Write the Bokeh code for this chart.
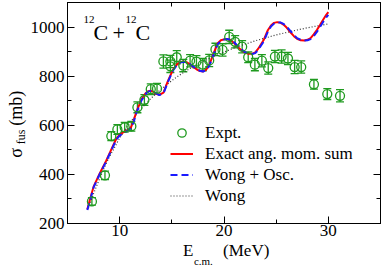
from bokeh.plotting import figure
from bokeh.models import (ColumnDataSource, Whisker, TeeHead, Label, Legend, LegendItem,
                          LinearAxis, SingleIntervalTicker, FixedTicker, Range1d)
from bokeh.embed import file_html
from bokeh.resources import INLINE

# ---------------- data ----------------
expt_E = [7.34, 8.59, 9.2, 9.78, 10.48, 11.12, 11.7, 12.37, 12.98, 13.58, 14.19, 14.86, 14.86,
          15.47, 16.1, 16.75, 17.36, 17.97, 18.58, 19.18, 19.86, 20.5, 21.07, 21.74, 22.32,
          22.96, 23.63, 24.24, 24.88, 25.52, 26.13, 26.77, 27.4, 28.62, 29.9, 31.12]
expt_sigma = [290, 396, 556, 583, 592, 596, 673, 703, 747, 749, 860, 860, 840,
              877, 843, 863, 859, 847, 864, 909, 907, 960, 940, 920, 877,
              847, 863, 833, 880, 880, 872, 837, 837, 767, 727, 720]
expt_err = [15, 17, 18, 20, 20, 20, 22, 22, 22, 22, 27, 25, 25,
            27, 25, 25, 25, 25, 25, 25, 25, 27, 25, 25, 22,
            25, 25, 25, 25, 27, 25, 27, 25, 20, 22, 25]

curve_E = [6.9, 7.2, 7.5, 8.1, 8.7, 9.4, 9.7, 10.0, 10.3, 10.6, 10.9, 11.1, 11.35, 11.6, 12.1,
           12.5, 12.75, 12.95, 13.2, 13.5, 13.8, 14.2, 14.6, 15.1, 15.5, 15.8, 16.1, 16.4, 16.7,
           17.0, 17.4, 17.7, 18.0, 18.3, 18.6, 19.0, 19.4, 19.7, 20.0, 20.3, 20.6, 21.0, 21.4,
           21.7, 22.0, 22.35, 22.7, 23.0, 23.3, 23.8, 24.2, 24.5, 24.8, 25.1, 25.4, 25.7, 26.0,
           26.3, 26.7, 27.0, 27.35, 27.7, 28.0, 28.3, 28.6, 28.9, 29.2, 29.5, 29.8, 30.0]
exact_sigma = [258, 305, 350, 405, 455, 520, 547, 562, 570, 577, 584, 593, 620, 655, 707,
               731, 739, 741, 737, 728, 724, 733, 778, 826, 848, 857, 860, 857, 849,
               840, 827, 821, 819, 827, 847, 893, 934, 946, 950, 951, 947, 934, 916,
               905, 896, 891, 891, 897, 913, 947, 987, 1006, 1017, 1020, 1018, 1010, 998,
               982, 963, 952, 946, 945, 948, 955, 970, 988, 1008, 1030, 1050, 1061]
osc_sigma = [255, 300, 347, 402, 452, 516, 543, 558, 566, 574, 582, 590, 615, 650, 702,
             728, 737, 740, 737, 730, 723, 730, 774, 822, 846, 855, 859, 857, 850,
             841, 829, 822, 819, 825, 843, 888, 930, 944, 949, 951, 948, 937, 919,
             908, 898, 892, 890, 894, 908, 941, 981, 1002, 1014, 1019, 1019, 1013, 1002,
             987, 968, 955, 948, 945, 946, 951, 963, 980, 1000, 1021, 1040, 1050]

wong_E = [7, 7.5, 8, 8.5, 9, 10, 11, 12, 13, 14, 15, 16, 17, 18, 19, 20, 21, 22, 23, 24,
          25, 26, 27, 28, 29, 30]
wong_sigma = [262, 322, 375, 425, 470, 548, 612, 665, 710, 748, 782, 812, 838, 860, 880,
              898, 915, 930, 944, 956, 968, 978, 988, 997, 1005, 1013]

x_tick_step = 10
y_tick_step = 200

# ---------------- layout (page pixels) ----------------
PW, PH = 382, 269
BL, BR, BT, BB = 67, 2, 2, 42
X0, X1, Y0, Y1 = 5, 35, 200, 1100
L, R, T, B = BL, PW - BR, BT, PH - BB


def dx(px):
    return X0 + (px - L) * (X1 - X0) / (R - L)


def dy(py):
    return Y0 + (B - py) * (Y1 - Y0) / (B - T)


SERIF = "Liberation Serif"
GREEN = "#1f9a1f"
NB = "\u00a0"

p = figure(width=PW, height=PH, output_backend="svg", toolbar_location=None,
           x_range=Range1d(X0, X1), y_range=Range1d(Y0, Y1),
           min_border_left=BL, min_border_right=BR, min_border_top=BT, min_border_bottom=BB,
           x_axis_type=None, y_axis_type=None)
p.xgrid.visible = False
p.ygrid.visible = False
p.outline_line_color = "black"
p.outline_line_width = 1
p.background_fill_color = "white"
p.border_fill_color = "white"


def make_axis(step, show_labels, standoff=3):
    ax = LinearAxis(ticker=SingleIntervalTicker(interval=step, num_minor_ticks=2))
    ax.major_tick_in = 7
    ax.major_tick_out = 0
    ax.minor_tick_in = 4
    ax.minor_tick_out = 0
    ax.axis_line_color = "black"
    ax.major_tick_line_color = "black"
    ax.minor_tick_line_color = "black"
    if show_labels:
        ax.major_label_text_font = SERIF
        ax.major_label_text_font_size = "17px"
        ax.major_label_text_color = "black"
        ax.major_label_standoff = standoff
    else:
        ax.major_label_text_font_size = "0px"
        ax.major_label_standoff = 0
        ax.major_label_text_alpha = 0
    return ax


def title_axis(text, size, standoff):
    ax = LinearAxis(ticker=FixedTicker(ticks=[]))
    ax.axis_line_color = None
    ax.major_tick_in = 0
    ax.major_tick_out = 0
    ax.minor_tick_in = 0
    ax.minor_tick_out = 0
    ax.major_label_text_font_size = "0px"
    ax.major_label_standoff = 0
    ax.axis_label = text
    ax.axis_label_text_font = SERIF
    ax.axis_label_text_font_style = "normal"
    ax.axis_label_text_font_size = f"{size}px"
    ax.axis_label_text_color = "black"
    ax.axis_label_standoff = standoff
    return ax


# bottom: ticks + "E (MeV)", then subscript "c.m."
xb = make_axis(x_tick_step, True, standoff=1)
xb.axis_label = NB + "E" + NB * 7 + "(MeV)"
xb.axis_label_text_font = SERIF
xb.axis_label_text_font_style = "normal"
xb.axis_label_text_font_size = "17px"
xb.axis_label_text_color = "black"
xb.axis_label_standoff = 2
p.add_layout(xb, "below")
p.add_layout(title_axis("c.m." + NB * 15, 11, -8), "below")

# left: ticks + subscript "fus", then "σ (mb)"
yl = make_axis(y_tick_step, True, standoff=3)
yl.axis_label = "fus" + NB * 16
yl.axis_label_text_font = SERIF
yl.axis_label_text_font_style = "normal"
yl.axis_label_text_font_size = "12px"
yl.axis_label_text_color = "black"
yl.axis_label_standoff = 0
p.add_layout(yl, "left")
p.add_layout(title_axis("σ" + NB * 5 + "(mb)" + NB * 5, 18, -15), "left")

p.add_layout(make_axis(x_tick_step, False), "above")
p.add_layout(make_axis(y_tick_step, False), "right")

# ---------------- curves ----------------
wong = p.line(wong_E, wong_sigma, line_color="#333333", line_width=1.2, line_dash="1 2")
exact = p.line(curve_E, exact_sigma, line_color="#ff0000", line_width=2)
osc = p.line(curve_E, osc_sigma, line_color="#1a1aff", line_width=2, line_dash="7 4")

# ---------------- experiment ----------------
src = ColumnDataSource(dict(
    x=expt_E, y=expt_sigma,
    upper=[v + e for v, e in zip(expt_sigma, expt_err)],
    lower=[v - e for v, e in zip(expt_sigma, expt_err)],
))
wh = Whisker(source=src, base="x", upper="upper", lower="lower",
             line_color=GREEN, line_width=1.3,
             upper_head=TeeHead(size=8, line_color=GREEN, line_width=1.3),
             lower_head=TeeHead(size=8, line_color=GREEN, line_width=1.3))
p.add_layout(wh)
pts = p.scatter("x", "y", source=src, marker="circle", size=9, fill_color=None,
                line_color=GREEN, line_width=1.3)

# ---------------- legend ----------------
legend = Legend(items=[
    LegendItem(label="Expt.", renderers=[pts]),
    LegendItem(label="Exact ang. mom. sum", renderers=[exact]),
    LegendItem(label="Wong + Osc.", renderers=[osc]),
    LegendItem(label="Wong", renderers=[wong]),
], location=(170 - L, B - 210), orientation="vertical")
legend.label_text_font = SERIF
legend.label_text_font_size = "17px"
legend.label_text_color = "black"
legend.glyph_width = 23
legend.glyph_height = 21
legend.label_height = 21
legend.label_standoff = 12
legend.spacing = 0
legend.padding = 0
legend.margin = 0
legend.border_line_color = None
legend.background_fill_alpha = 0
p.add_layout(legend)


def add_label(text, px, py, size):
    p.add_layout(Label(x=dx(px), y=dy(py), text=text, text_font=SERIF,
                       text_font_size=f"{size}px", text_color="black",
                       text_align="left", text_baseline="alphabetic"))


# title 12C + 12C (inside the frame)
add_label("12", 83, 19, 11)
add_label("C", 93, 33, 22)
add_label("+", 112, 33, 22)
add_label("12", 125, 19, 11)
add_label("C", 135, 33, 22)

open("out.html", "w").write(file_html(p, INLINE))
